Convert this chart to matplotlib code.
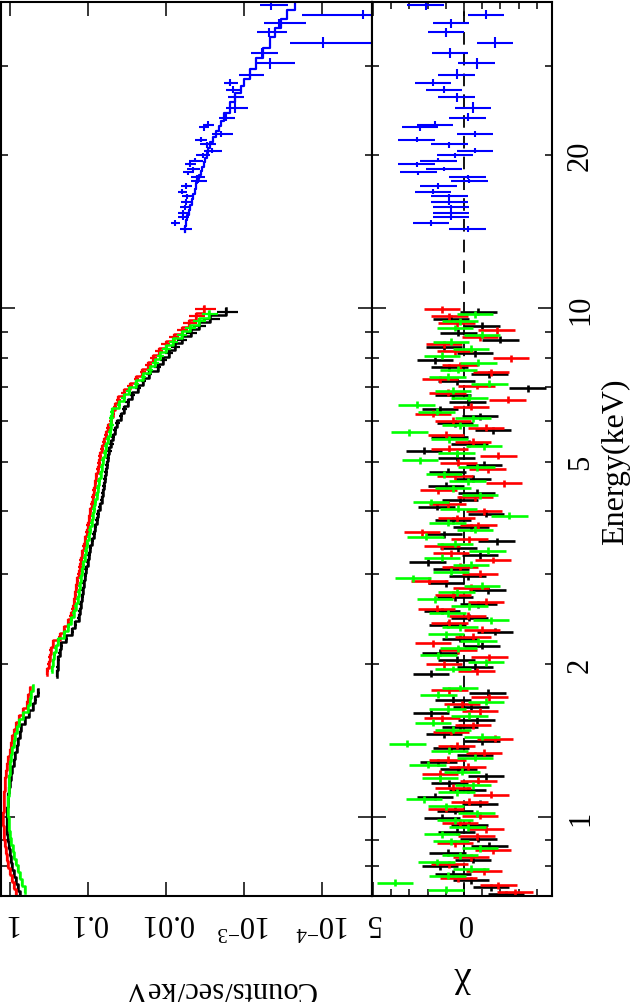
import numpy as np
import matplotlib
matplotlib.use("Agg")
import matplotlib.pyplot as plt
from matplotlib import font_manager
from matplotlib.ticker import LogLocator, NullFormatter, FuncFormatter, MultipleLocator, FixedLocator

# Times-like serif; fall back gracefully if the name is not registered
serif = 'DejaVu Serif'
for name in ['Liberation Serif', 'Nimbus Roman', 'Times New Roman']:
    try:
        font_manager.findfont(name, fallback_to_default=False)
        serif = name
        break
    except Exception:
        pass
plt.rcParams['font.family'] = [serif, 'DejaVu Serif']
plt.rcParams['mathtext.fontset'] = 'custom'
plt.rcParams['mathtext.rm'] = serif
plt.rcParams['mathtext.it'] = serif + ':italic'

# ---- XIS data: bin centre (keV), counts/s/keV, chi ----
e_black = [0.705, 0.728, 0.751, 0.775, 0.800, 0.825, 0.852, 0.879, 0.907, 0.936, 0.966, 0.997, 1.029, 1.062, 1.096,
           1.131, 1.167, 1.204, 1.243, 1.283, 1.324, 1.366, 1.410, 1.455, 1.501, 1.549, 1.599, 1.650, 1.703, 1.757,
           1.915, 1.976, 2.039, 2.105, 2.172, 2.241, 2.313, 2.387, 2.464, 2.542, 2.624, 2.708, 2.794, 2.884, 2.976,
           3.071, 3.169, 3.271, 3.375, 3.483, 3.595, 3.710, 3.829, 3.951, 4.077, 4.208, 4.342, 4.481, 4.625, 4.773,
           4.925, 5.083, 5.246, 5.413, 5.587, 5.765, 5.950, 6.140, 6.337, 6.539, 6.749, 6.965, 7.187, 7.417, 7.655,
           7.900, 8.152, 8.413, 8.683, 8.960, 9.247, 9.543, 9.848]
c_black = [0.75, 0.79, 0.84, 0.89, 0.93, 0.97, 1.00, 1.03, 1.06, 1.08, 1.09, 1.10, 1.09, 1.07, 1.05,
           1.02, 0.99, 0.96, 0.93, 0.89, 0.86, 0.82, 0.79, 0.75, 0.71, 0.64, 0.57, 0.51, 0.47, 0.43,
           0.25, 0.245, 0.24, 0.23, 0.22, 0.19, 0.16, 0.145, 0.132, 0.127, 0.123, 0.119, 0.116, 0.113, 0.109,
           0.106, 0.101, 0.097, 0.093, 0.088, 0.084, 0.080, 0.077, 0.074, 0.071, 0.067, 0.065, 0.063, 0.061, 0.059,
           0.057, 0.055, 0.053, 0.050, 0.048, 0.045, 0.042, 0.038, 0.034, 0.031, 0.027, 0.023, 0.0195, 0.0165, 0.0128,
           0.0108, 0.0092, 0.0076, 0.0063, 0.0048, 0.0038, 0.0027, 0.0017]
chi_black = [-2.3, -1.5, -0.4, 0.6, 1.3, -0.5, 0.9, -1.4, -0.8, 0.4, -0.3, 1.2, 0.5, -0.9, 1.6,
             -0.2, 0.8, -1.2, 0.3, 1.4, -0.6, 0.7, -1.0, 1.1, 0.2, -0.7, 1.8, -0.4, 0.6, -1.3,
             1.8, -0.6, 0.4, 1.3, -1.0, 0.2, -1.7, 0.9, -0.3, 1.2, -0.8, 0.5, -1.3, 1.0, -0.2,
             0.7, 2.0, -0.9, 0.3, -1.8, 1.1, -0.4, 0.6, -1.2, 1.5, 0.2, -0.7, 1.0, -0.5, 0.9,
             -1.1, 0.4, 2.2, -0.3, 0.8, -1.6, 0.5, -0.9, 1.3, -0.2, 0.6, -3.5, 0.4, -1.4, 0.8,
             1.6, -0.6, 1.1, -2.0, 0.3, -1.0, 0.7, -0.8]

e_red = [0.712, 0.736, 0.759, 0.783, 0.808, 0.834, 0.861, 0.888, 0.917, 0.946, 0.976, 1.007, 1.040, 1.073, 1.108,
         1.143, 1.179, 1.217, 1.256, 1.296, 1.338, 1.380, 1.425, 1.470, 1.517, 1.565, 1.616, 1.667, 1.721, 1.775,
         1.935, 1.997, 2.060, 2.127, 2.195, 2.265, 2.337, 2.412, 2.490, 2.569, 2.652, 2.736, 2.823, 2.914, 3.007,
         3.103, 3.202, 3.305, 3.410, 3.520, 3.633, 3.749, 3.869, 3.993, 4.120, 4.252, 4.388, 4.528, 4.674, 4.823,
         4.977, 5.136, 5.301, 5.470, 5.646, 5.826, 6.012, 6.204, 6.403, 6.608, 6.820, 7.038, 7.262, 7.495, 7.735,
         7.983, 8.238, 8.501, 8.774, 9.054, 9.344, 9.643, 9.951]
c_red = [0.83, 0.89, 0.95, 1.01, 1.06, 1.10, 1.13, 1.16, 1.18, 1.20, 1.21, 1.21, 1.20, 1.19, 1.18,
         1.16, 1.14, 1.11, 1.09, 1.05, 1.01, 0.97, 0.93, 0.89, 0.84, 0.76, 0.67, 0.61, 0.58, 0.55,
         0.33, 0.32, 0.31, 0.30, 0.28, 0.23, 0.20, 0.178, 0.165, 0.157, 0.150, 0.145, 0.141, 0.137, 0.132,
         0.127, 0.123, 0.118, 0.113, 0.108, 0.103, 0.100, 0.096, 0.093, 0.089, 0.086, 0.083, 0.080, 0.078, 0.075,
         0.073, 0.070, 0.066, 0.062, 0.058, 0.055, 0.051, 0.048, 0.045, 0.041, 0.035, 0.029, 0.024, 0.020, 0.0168,
         0.0145, 0.0123, 0.0101, 0.0080, 0.0062, 0.0050, 0.0041, 0.0033]
chi_red = [-2.8, -1.9, 0.3, -1.1, 0.8, -0.4, -1.6, 0.5, -0.7, -1.2, 0.2, -0.9, 1.0, -0.3, -1.5,
           0.6, -0.8, 1.3, -0.2, 0.9, -1.1, 0.4, -1.7, 0.7, -0.5, 1.2, -0.9, 0.1, -1.4, 0.8,
           -0.7, 1.1, -1.4, 0.3, 1.7, -0.5, -1.0, 0.8, -0.2, 1.5, -1.2, 0.6, -0.4, 1.9, -0.9,
           0.2, -1.6, 0.7, 1.2, -0.3, 2.3, -0.8, 0.4, -1.1, 0.9, -0.6, 1.4, -2.2, 0.5, -1.3,
           0.3, -1.9, 0.8, -0.5, 1.0, -1.2, 0.6, 1.7, -0.4, -2.4, 0.9, -0.7, 1.3, -1.5, 0.2,
           -2.6, 0.5, 1.1, -0.9, -1.8, 0.4, 0.8, 1.2]

e_green = [0.720, 0.743, 0.767, 0.791, 0.817, 0.842, 0.870, 0.897, 0.926, 0.956, 0.986, 1.018, 1.051, 1.084, 1.119,
           1.155, 1.192, 1.229, 1.269, 1.310, 1.352, 1.395, 1.440, 1.486, 1.533, 1.582, 1.633, 1.685, 1.739, 1.794,
           1.955, 2.017, 2.082, 2.149, 2.218, 2.288, 2.362, 2.437, 2.516, 2.595, 2.679, 2.765, 2.853, 2.945, 3.038,
           3.135, 3.236, 3.340, 3.446, 3.556, 3.670, 3.788, 3.909, 4.034, 4.163, 4.296, 4.433, 4.575, 4.722, 4.873,
           5.028, 5.190, 5.356, 5.527, 5.704, 5.886, 6.075, 6.269, 6.470, 6.676, 6.891, 7.111, 7.338, 7.573, 7.816,
           8.066, 8.323, 8.590, 8.865, 9.148, 9.441, 9.743]
c_green = [0.64, 0.69, 0.74, 0.79, 0.84, 0.88, 0.92, 0.96, 0.99, 1.02, 1.04, 1.05, 1.05, 1.05, 1.04,
           1.03, 1.02, 1.01, 0.99, 0.96, 0.93, 0.89, 0.86, 0.82, 0.76, 0.68, 0.59, 0.55, 0.53, 0.51,
           0.29, 0.28, 0.27, 0.26, 0.24, 0.20, 0.178, 0.163, 0.152, 0.143, 0.136, 0.131, 0.127, 0.123, 0.119,
           0.114, 0.110, 0.106, 0.102, 0.098, 0.094, 0.090, 0.087, 0.084, 0.080, 0.077, 0.074, 0.072, 0.069, 0.067,
           0.064, 0.061, 0.058, 0.055, 0.052, 0.050, 0.050, 0.049, 0.040, 0.035, 0.030, 0.024, 0.0195, 0.0162, 0.0137,
           0.0118, 0.0099, 0.0081, 0.0063, 0.0049, 0.0038, 0.0028]
chi_green = [1.0, 3.8, 0.9, -0.4, 1.5, 0.2, -0.9, 0.7, 1.2, -0.2, 0.5, -0.7, 1.0, 2.2, 0.4,
             -0.5, 1.3, 0.1, 2.0, -0.6, 0.8, 3.1, -1.0, 0.6, 1.7, -0.3, 0.9, -1.2, 1.4, 0.2,
             0.6, -1.2, 1.4, 0.3, -0.8, 1.0, 0.2, -1.5, 0.9, -0.3, 1.6, 0.4, -1.0, 2.8, 0.7,
             -0.4, 1.2, -1.3, 0.5, 2.1, -0.6, 0.9, -2.5, 0.3, 1.8, -0.9, 0.6, -0.2, 1.1, -0.7,
             2.4, 0.4, -1.1, 0.8, 3.0, 0.2, -0.5, 1.5, 2.6, -0.3, 0.6, -1.4, 0.9, 0.3, -0.8,
             1.2, -0.4, 0.7, -1.0, 0.5, 0.2, -0.6]

# fractional count errors, per bin index
rel_err = [0.025, 0.02, 0.02, 0.02, 0.02, 0.02, 0.02, 0.02, 0.02, 0.02, 0.02, 0.02, 0.02, 0.02, 0.02,
           0.02, 0.02, 0.02, 0.02, 0.02, 0.02, 0.02, 0.025, 0.025, 0.025, 0.025, 0.03, 0.03, 0.03, 0.03,
           0.04, 0.04, 0.04, 0.04, 0.04, 0.045, 0.045, 0.045, 0.045, 0.045, 0.045, 0.045, 0.045, 0.045, 0.045,
           0.05, 0.05, 0.05, 0.05, 0.05, 0.05, 0.05, 0.05, 0.05, 0.05, 0.05, 0.055, 0.055, 0.055, 0.055,
           0.055, 0.06, 0.06, 0.06, 0.06, 0.065, 0.065, 0.065, 0.07, 0.07, 0.075, 0.08, 0.085, 0.09, 0.10,
           0.11, 0.12, 0.13, 0.15, 0.17, 0.20, 0.24, 0.30]

# ---- PIN data ----
e_pin = [14.3, 14.7, 15.1, 15.4, 15.8, 16.2, 16.6, 16.9, 17.4, 17.8, 18.1, 18.5, 18.8, 19.2, 19.5, 20.0, 20.4, 21.0, 21.4, 22.0,
         22.7, 22.9, 23.7, 24.8, 26.0, 26.9, 27.7, 28.7, 30.3, 31.8, 33.3, 34.9, 36.3, 37.8, 39.4]
c_pin = [0.0057, 0.0077, 0.0061, 0.0061, 0.0057, 0.0055, 0.0054, 0.0062, 0.0056, 0.0039, 0.0040, 0.0052, 0.0045, 0.0049, 0.0042,
         0.0034, 0.0026, 0.0030, 0.0036, 0.0020, 0.0033, 0.0029, 0.0017, 0.0013, 0.0013, 0.0014, 0.0015, 0.00085, 0.00046, 0.00059,
         0.000097, 0.00048, 0.00036, 0.00003, 0.00045]
err_pin = [0.0010, 0.0010, 0.0010, 0.0010, 0.0009, 0.0009, 0.0009, 0.0009, 0.0009, 0.0009, 0.0008, 0.0008, 0.0008, 0.0008, 0.0008,
           0.0007, 0.0007, 0.0007, 0.0006, 0.0006, 0.0005, 0.0005, 0.0004, 0.0004, 0.0003, 0.0003, 0.0003, 0.0003, 0.00024, 0.00022,
           0.00016, 0.0002, 0.0002, 0.00015, 0.00018]
model_pin = [0.0057, 0.0055, 0.0053, 0.0051, 0.0049, 0.0047, 0.0045, 0.0043, 0.0041, 0.0040, 0.0038, 0.0036, 0.0035, 0.0033, 0.0032,
             0.0030, 0.0029, 0.0027, 0.0025, 0.0023, 0.0021, 0.0020, 0.0018, 0.0015, 0.0013, 0.0011, 0.0010, 0.00085, 0.00070, 0.00057,
             0.00047, 0.00040, 0.00034, 0.00028, 0.00022]
chi_pin = [-0.2, 1.8, 0.7, 0.7, 0.7, 0.8, 0.8, 1.7, 1.4, -0.3, -0.2, 2.5, 1.1, 2.6, 1.4, 0.5, -0.6, 0.8, 2.6, -0.6,
           2.4, 1.6, -0.2, -0.5, 0.4, 1.1, 1.7, 0.4, -0.7, 0.75, -1.7, 1.0, 0.7, -1.2, 2.1]

count_ticks = [1, 0.1, 0.01, 1e-3, 1e-4]
count_labels = ['1', '0.1', '0.01', r'$\mathregular{10^{-3}}$', r'$\mathregular{10^{-4}}$']
energy_labels = {1: '1', 2: '2', 5: '5', 10: '10', 20: '20'}


def bin_edges(e):
    # bins run between neighbouring centres, but never across the ignored 1.8-1.9 keV band
    e = np.asarray(e, float)
    mid = np.sqrt(e[1:] * e[:-1])
    lo = np.concatenate([[e[0] ** 2 / mid[0]], mid])
    hi = np.concatenate([mid, [e[-1] ** 2 / mid[-1]]])
    for i in np.where(e[1:] / e[:-1] > 1.08)[0]:
        hi[i] = e[i] ** 2 / lo[i]
        lo[i + 1] = e[i + 1] ** 2 / hi[i + 1]
    return lo, hi


def step_path(e, m):
    lo, hi = bin_edges(e)
    xs, ys = [], []
    for i in range(len(e)):
        if i > 0 and abs(lo[i] - hi[i - 1]) > 1e-9:
            xs.append(np.nan); ys.append(np.nan)
        xs += [m[i], m[i]]
        ys += [lo[i], hi[i]]
    return xs, ys


fig = plt.figure(figsize=(6.32, 10.03), dpi=100)
W, H = 632, 1003
ax1 = fig.add_axes([1 / W, (H - 897) / H, 371 / W, 894 / H])
ax2 = fig.add_axes([372 / W, (H - 897) / H, 180 / W, 894 / H])

groups = [(e_black, c_black, chi_black, 'black'),
          (e_red, c_red, chi_red, '#ff0000'),
          (e_green, c_green, chi_green, '#00ff00')]

for e, c, chi, col in groups:
    e = np.array(e); c = np.array(c)
    lo, hi = bin_edges(e)
    cerr = np.array(rel_err[:len(e)]) * c
    ax1.errorbar(c, e, xerr=cerr, yerr=[e - lo, hi - e], fmt='none', ecolor=col, elinewidth=1.6, capsize=0)
    xs, ys = step_path(e, c)
    ax1.plot(xs, ys, color=col, lw=1.8)
    ax2.errorbar(chi, e, xerr=1.0, yerr=[e - lo, hi - e], fmt='none', ecolor=col, elinewidth=1.9, capsize=0)

# PIN
ep = np.array(e_pin); cp = np.array(c_pin); ep_err = np.array(err_pin)
lo, hi = bin_edges(ep)
ax1.errorbar(cp, ep, xerr=[np.minimum(ep_err, cp * 0.999), ep_err], yerr=[ep - lo, hi - ep],
             fmt='none', ecolor='#0000ff', elinewidth=1.5, capsize=0)
xs, ys = step_path(ep, model_pin)
ax1.plot(xs, ys, color='#0000ff', lw=1.6)
ax2.errorbar(chi_pin, ep, xerr=1.0, yerr=[ep - lo, hi - ep], fmt='none', ecolor='#0000ff', elinewidth=1.5, capsize=0)

ax2.axvline(0, color='black', lw=1.3, ls=(0, (7, 4.5)), zorder=0)

# axes: counts (log, decreasing to the right), chi, energy (log, upward)
ax1.set_xscale('log')
ax1.set_xlim(1.30, 2.29e-5)
ax2.set_xlim(5.05, -4.84)
for ax in (ax1, ax2):
    ax.set_yscale('log')
    ax.set_ylim(0.7, 40)
    ax.yaxis.set_major_locator(FixedLocator([1, 10]))
    ax.yaxis.set_minor_locator(FixedLocator([0.7, 0.8, 0.9, 2, 3, 4, 5, 6, 7, 8, 9, 20, 30, 40]))
    ax.tick_params(which='both', direction='in', top=True, bottom=True, left=True, right=True, width=1.1)
    ax.tick_params(which='major', length=10)
    ax.tick_params(which='minor', length=5)
    for s in ax.spines.values():
        s.set_linewidth(1.5)

ax1.set_xticks(count_ticks, labels=count_labels)
ax1.xaxis.set_minor_locator(LogLocator(base=10, subs=np.arange(2, 10)))
ax1.xaxis.set_minor_formatter(NullFormatter())
ax1.yaxis.set_major_formatter(NullFormatter())
ax1.yaxis.set_minor_formatter(NullFormatter())
ax1.tick_params(axis='x', labelsize=22, pad=8)
for t in ax1.get_xticklabels():
    t.set_rotation(180)

ax2.set_xticks([5, 0], labels=['5', '0'])
ax2.xaxis.set_minor_locator(MultipleLocator(1))
ax2.tick_params(axis='x', labelsize=22, pad=8)
for t in ax2.get_xticklabels():
    t.set_rotation(180)

efmt = FuncFormatter(lambda v, p: energy_labels.get(int(round(v)), '') if abs(v - round(v)) < 1e-6 else '')
ax2.yaxis.set_major_formatter(efmt)
ax2.yaxis.set_minor_formatter(efmt)
ax2.tick_params(axis='y', which='both', labelleft=False, labelright=True, labelsize=22, pad=10)
for t in ax2.get_yticklabels(which='both'):
    t.set_rotation(90)
    t.set_va('center')

fig.text(219 / W, 1 - 990 / H, 'Counts/sec/keV', rotation=180, ha='center', va='center', fontsize=22)
fig.text(464 / W, 1 - 984 / H, 'χ', rotation=180, ha='center', va='center', fontsize=27)
fig.text(616 / W, 1 - 462 / H, 'Energy(keV)', rotation=90, ha='center', va='center', fontsize=23)

fig.savefig('out.png', dpi=100)
